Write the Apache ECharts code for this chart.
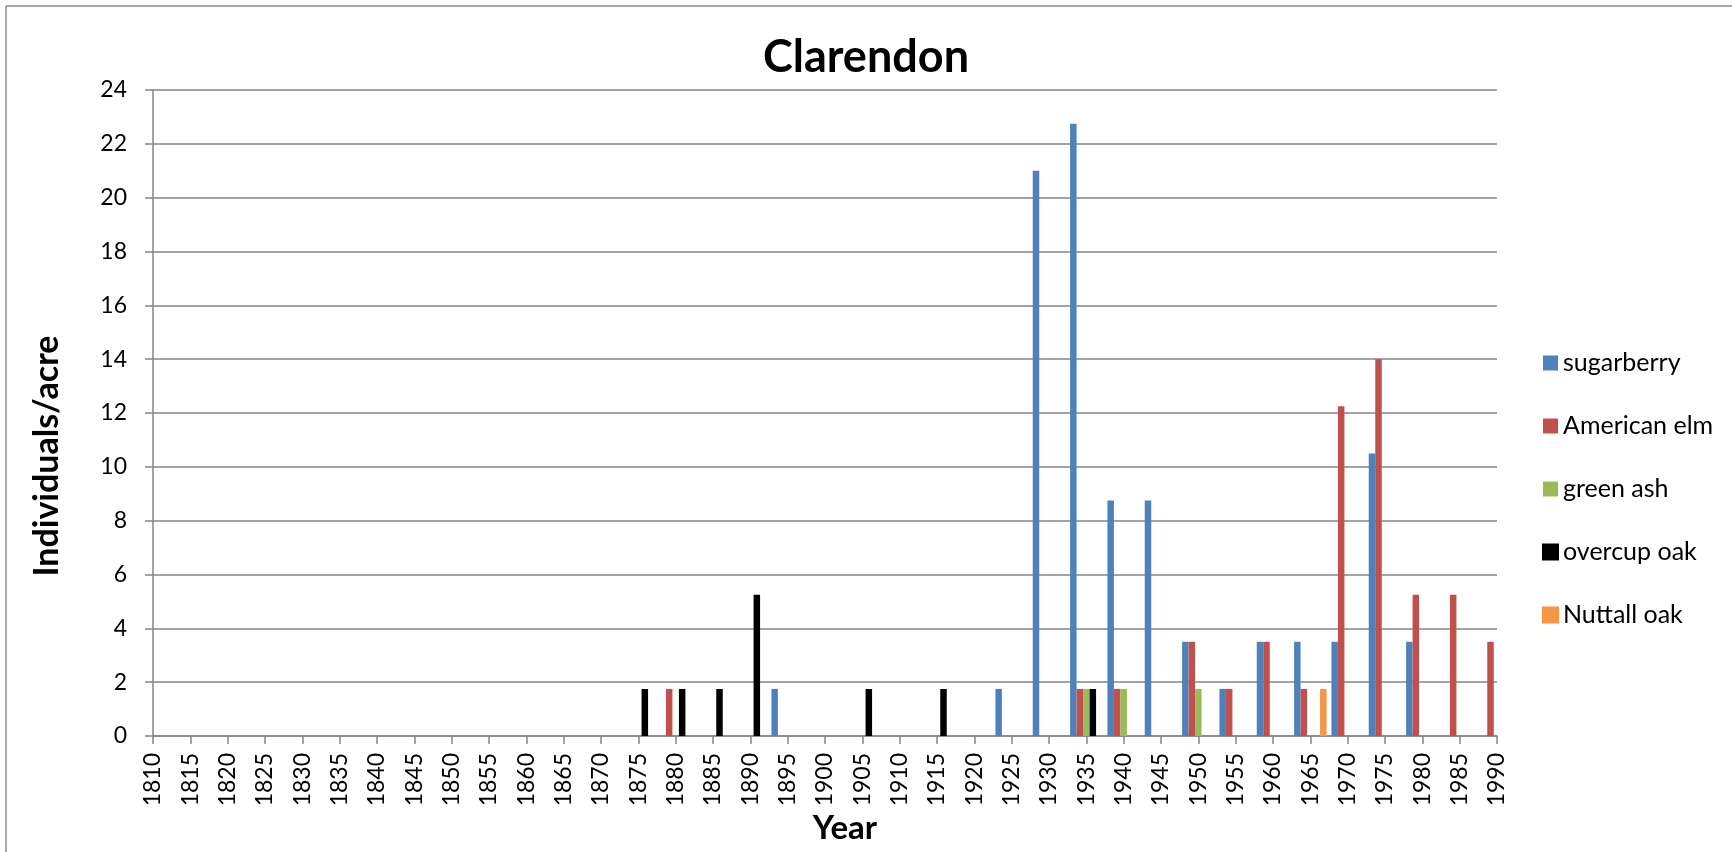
<!DOCTYPE html>
<html>
<head>
<meta charset="utf-8">
<script src="https://cdn.jsdelivr.net/npm/echarts@6/dist/echarts.min.js"></script>
<style>
html,body{margin:0;padding:0;background:#fff;}
#chart{width:1732px;height:852px;}
</style>
</head>
<body>
<div id="chart"></div>
<script>
const categories = ['1810','1815','1820','1825','1830','1835','1840','1845','1850','1855',
  '1860','1865','1870','1875','1880','1885','1890','1895','1900','1905','1910','1915',
  '1920','1925','1930','1935','1940','1945','1950','1955','1960','1965','1970','1975',
  '1980','1985','1990'];
const yTicks = [0,2,4,6,8,10,12,14,16,18,20,22,24];
const seriesNames = ['sugarberry','American elm','green ash','overcup oak','Nuttall oak'];
const seriesColors = ['#4F81BD','#C0504D','#9BBB59','#000000','#F79646'];

const sugarberry = [['1895',1.75],['1925',1.75],['1930',21],['1935',22.75],['1940',8.75],
  ['1945',8.75],['1950',3.5],['1955',1.75],['1960',3.5],['1965',3.5],['1970',3.5],
  ['1975',10.5],['1980',3.5]];
const americanElm = [['1880',1.75],['1935',1.75],['1940',1.75],['1950',3.5],['1955',1.75],
  ['1960',3.5],['1965',1.75],['1970',12.25],['1975',14],['1980',5.25],['1985',5.25],['1990',3.5]];
const greenAsh = [['1935',1.75],['1940',1.75],['1950',1.75]];
const overcupOak = [['1875',1.75],['1880',1.75],['1885',1.75],['1890',5.25],['1905',1.75],
  ['1915',1.75],['1935',1.75]];
const nuttallOak = [['1965',1.75]];

const seriesData = [sugarberry, americanElm, greenAsh, overcupOak, nuttallOak];
const FONT = 'Lato';
const GRID_C = '#868686';

const chart = echarts.init(document.getElementById('chart'), null, {renderer:'canvas'});
chart.setOption({
  animation:false,
  backgroundColor:'#ffffff',
  title:{
    text:'Clarendon', left:'center', top:35, padding:0,
    textStyle:{fontFamily:FONT, fontWeight:'bold', fontSize:45, color:'#000'}
  },
  graphic:[
    {type:'line', shape:{x1:6,y1:6,x2:1732,y2:6}, style:{stroke:'#8a8a8a', lineWidth:1.5}},
    {type:'line', shape:{x1:6,y1:6,x2:6,y2:852}, style:{stroke:'#8a8a8a', lineWidth:1.5}},
    {type:'text', x:47, y:456, rotation:Math.PI/2,
      style:{text:'Individuals/acre', fontFamily:FONT, fontWeight:'bold', fontSize:34,
        fill:'#000', textAlign:'center', textVerticalAlign:'middle'}},
    {type:'text', x:845, y:828,
      style:{text:'Year', fontFamily:FONT, fontWeight:'bold', fontSize:33,
        fill:'#000', textAlign:'center', textVerticalAlign:'middle'}}
  ],
  legend:{
    orient:'vertical', left:1537, top:345,
    itemWidth:15, itemHeight:15, itemGap:37, icon:'rect',
    data:seriesNames,
    textStyle:{fontFamily:FONT, fontSize:25, color:'#000', lineHeight:26}
  },
  grid:{left:153, right:235, top:90, bottom:116, containLabel:false},
  xAxis:{
    type:'category', data:categories, boundaryGap:false,
    axisLine:{lineStyle:{color:GRID_C, width:1.5}},
    axisTick:{show:true, interval:0, length:8, lineStyle:{color:GRID_C, width:1.5}},
    axisLabel:{interval:0, rotate:90, margin:17, fontFamily:FONT, fontSize:23, color:'#000'},
    splitLine:{show:false}
  },
  yAxis:{
    type:'value', min:yTicks[0], max:yTicks[yTicks.length-1], interval:yTicks[1]-yTicks[0],
    axisLine:{show:true, lineStyle:{color:GRID_C, width:1.5}},
    axisTick:{show:true, length:8, lineStyle:{color:GRID_C, width:1.5}},
    axisLabel:{margin:26, fontFamily:FONT, fontSize:23, color:'#000'},
    splitLine:{show:true, lineStyle:{color:GRID_C, width:1.5}}
  },
  series: seriesNames.map((name, i) => ({
    name, type:'bar', data:seriesData[i], barWidth:6.5, barGap:'0%',
    itemStyle:{
      color:seriesColors[i],
      borderColor:seriesColors[i],
      borderWidth:(i === 3 || i === 4) ? 1.5 : 0
    }
  }))
});
</script>
</body>
</html>
